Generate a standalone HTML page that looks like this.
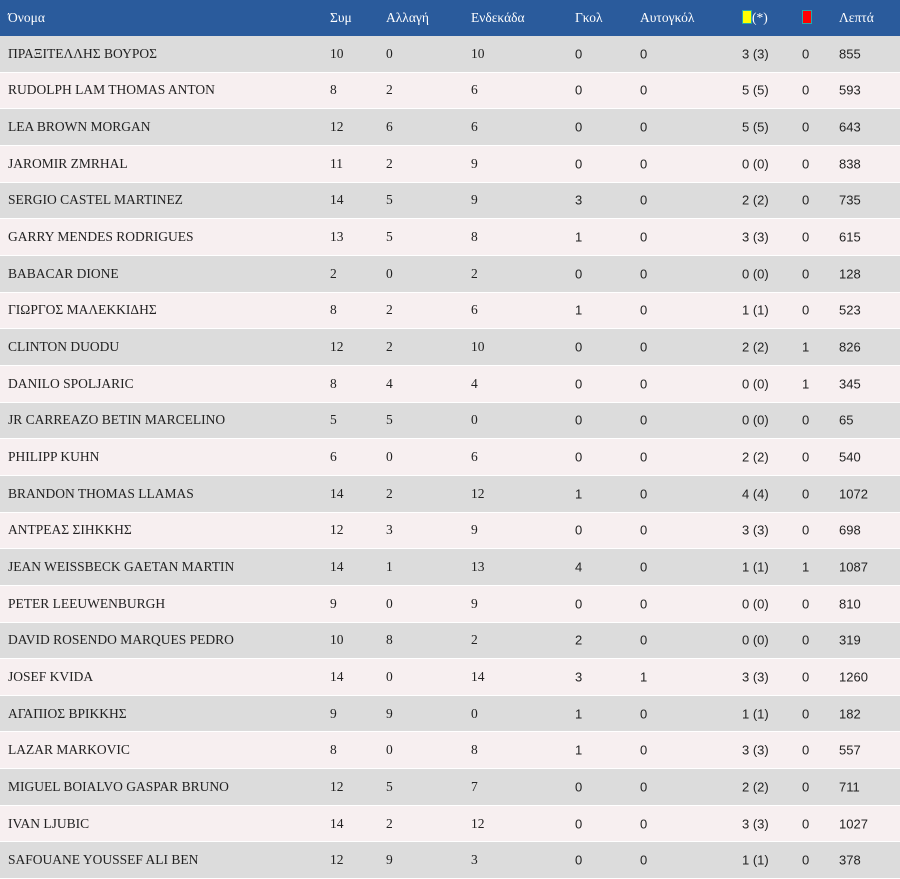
<!DOCTYPE html>
<html><head><meta charset="utf-8"><style>
body{margin:0;width:900px;height:878px;overflow:hidden;background:#fff;font-family:"Liberation Sans","DejaVu Sans",sans-serif;font-size:13px;color:#222}
.r{position:relative;height:36.667px;box-sizing:border-box;border-bottom:1px solid #fff}
.h{height:36px;background:#2a5b9c;color:#fff;border:none}
.h span{font-family:"Liberation Serif","DejaVu Serif",serif;font-size:13.5px}
.g{background:#dcdcdc}.p{background:#f7eff0}
.r span{position:absolute;top:50%;transform:translateY(-50%);white-space:nowrap}
.n,.c1,.c2,.c3{font-family:"Liberation Serif","DejaVu Serif",serif;font-size:13.5px}
.c0{left:8px}.c1{left:330px}.c2{left:386px}.c3{left:471px}.c4{left:575px}.c5{left:640px}.c6{left:742px}.c7{left:802px}.c8{left:839px}
.y{display:inline-block;width:8px;height:12px;background:#ff0;border:1px solid #2aa;vertical-align:-2px}
.rd{display:inline-block;width:8px;height:12px;background:#f00;border:1px solid #2aa;vertical-align:-2px}
</style></head><body>
<div class="r h"><span class="c0">Όνομα</span><span class="c1">Συμ</span><span class="c2">Αλλαγή</span><span class="c3">Ενδεκάδα</span><span class="c4">Γκολ</span><span class="c5">Αυτογκόλ</span><span class="c6"><i class="y"></i>(*)</span><span class="c7"><i class="rd"></i></span><span class="c8">Λεπτά</span></div>
<div id="t"></div>
<script>
var d=[
["ΠΡΑΞΙΤΕΛΛΗΣ ΒΟΥΡΟΣ",10,0,10,0,0,"3 (3)",0,855],
["RUDOLPH LAM THOMAS ANTON",8,2,6,0,0,"5 (5)",0,593],
["LEA BROWN MORGAN",12,6,6,0,0,"5 (5)",0,643],
["JAROMIR ZMRHAL",11,2,9,0,0,"0 (0)",0,838],
["SERGIO CASTEL MARTINEZ",14,5,9,3,0,"2 (2)",0,735],
["GARRY MENDES RODRIGUES",13,5,8,1,0,"3 (3)",0,615],
["BABACAR DIONE",2,0,2,0,0,"0 (0)",0,128],
["ΓΙΩΡΓΟΣ ΜΑΛΕΚΚΙΔΗΣ",8,2,6,1,0,"1 (1)",0,523],
["CLINTON DUODU",12,2,10,0,0,"2 (2)",1,826],
["DANILO SPOLJARIC",8,4,4,0,0,"0 (0)",1,345],
["JR CARREAZO BETIN MARCELINO",5,5,0,0,0,"0 (0)",0,65],
["PHILIPP KUHN",6,0,6,0,0,"2 (2)",0,540],
["BRANDON THOMAS LLAMAS",14,2,12,1,0,"4 (4)",0,1072],
["ΑΝΤΡΕΑΣ ΣΙΗΚΚΗΣ",12,3,9,0,0,"3 (3)",0,698],
["JEAN WEISSBECK GAETAN MARTIN",14,1,13,4,0,"1 (1)",1,1087],
["PETER LEEUWENBURGH",9,0,9,0,0,"0 (0)",0,810],
["DAVID ROSENDO MARQUES PEDRO",10,8,2,2,0,"0 (0)",0,319],
["JOSEF KVIDA",14,0,14,3,1,"3 (3)",0,1260],
["ΑΓΑΠΙΟΣ ΒΡΙΚΚΗΣ",9,9,0,1,0,"1 (1)",0,182],
["LAZAR MARKOVIC",8,0,8,1,0,"3 (3)",0,557],
["MIGUEL BOIALVO GASPAR BRUNO",12,5,7,0,0,"2 (2)",0,711],
["IVAN LJUBIC",14,2,12,0,0,"3 (3)",0,1027],
["SAFOUANE YOUSSEF ALI BEN",12,9,3,0,0,"1 (1)",0,378]];
var h="";d.forEach(function(r,i){h+='<div class="r '+(i%2?'p':'g')+'">';r.forEach(function(v,j){h+='<span class="c'+j+(j==0?' n':'')+'">'+v+'</span>'});h+='</div>'});
document.getElementById("t").innerHTML=h;
</script>
</body></html>
